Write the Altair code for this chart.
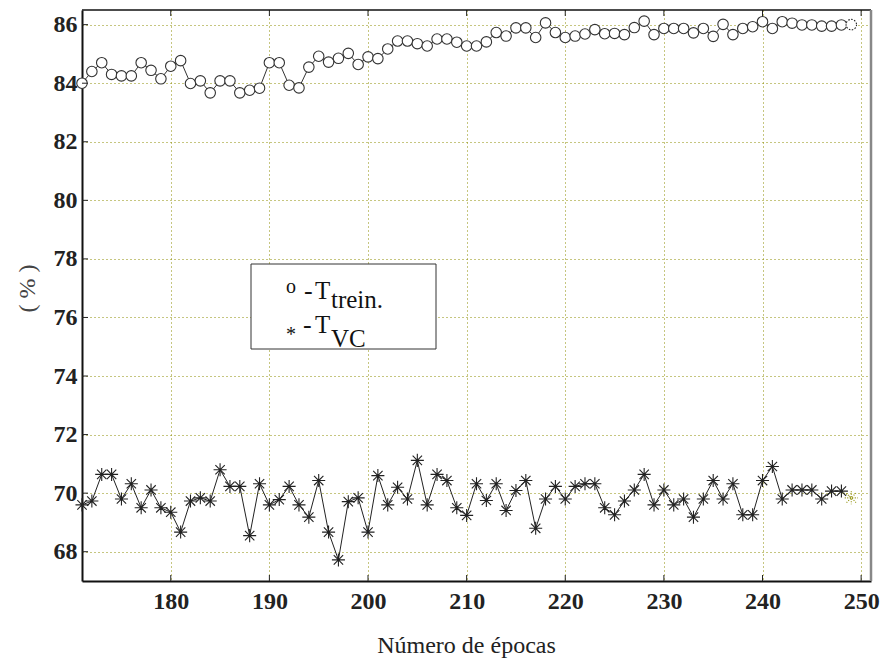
import altair as alt
import pandas as pd

# ---- data ----
epochs = list(range(171, 250))
t_trein = [84.0, 84.4, 84.7, 84.3, 84.25, 84.25, 84.7, 84.44, 84.15, 84.58,
           84.77, 83.99, 84.08, 83.67, 84.08, 84.08, 83.67, 83.76, 83.83, 84.7,
           84.7, 83.93, 83.84, 84.55, 84.92, 84.72, 84.85, 85.02, 84.64, 84.9,
           84.84, 85.17, 85.44, 85.44, 85.35, 85.27, 85.51, 85.51, 85.4, 85.27,
           85.27, 85.41, 85.73, 85.61, 85.89, 85.89, 85.56, 86.06, 85.73, 85.56,
           85.61, 85.68, 85.83, 85.69, 85.7, 85.66, 85.9, 86.12, 85.66, 85.87,
           85.87, 85.87, 85.72, 85.87, 85.6, 86.01, 85.66, 85.87, 85.93, 86.1,
           85.87, 86.1, 86.05, 85.99, 85.99, 85.95, 85.95, 85.99, 86.0]
t_vc = [69.6, 69.73, 70.64, 70.64, 69.8, 70.32, 69.5, 70.11, 69.5, 69.35,
        68.67, 69.73, 69.84, 69.73, 70.8, 70.23, 70.23, 68.55, 70.32, 69.6,
        69.78, 70.23, 69.6, 69.18, 70.43, 68.67, 67.72, 69.71, 69.84, 68.67,
        70.6, 69.6, 70.2, 69.8, 71.12, 69.6, 70.64, 70.43, 69.5, 69.24,
        70.32, 69.75, 70.32, 69.41, 70.09, 70.43, 68.8, 69.8, 70.23, 69.8,
        70.23, 70.32, 70.32, 69.5, 69.26, 69.73, 70.11, 70.64, 69.6, 70.11,
        69.6, 69.8, 69.18, 69.8, 70.43, 69.8, 70.32, 69.26, 69.26, 70.43,
        70.91, 69.8, 70.11, 70.11, 70.11, 69.8, 70.07, 70.07, 69.84]
x_ticks = [180, 190, 200, 210, 220, 230, 240, 250]
y_ticks = [68, 70, 72, 74, 76, 78, 80, 82, 84, 86]

W, H = 789, 571
FONT = "'Liberation Serif', 'Times New Roman', Times, 'DejaVu Serif', serif"
GRID = "#8c8c00"

df = pd.DataFrame({"epoch": epochs, "trein": t_trein, "vc": t_vc})
main = df[df.epoch <= 248]
tail = df[df.epoch >= 248]
last = df[df.epoch == 249]

xscale = alt.Scale(domain=[171, 251], nice=False, zero=False)
yscale = alt.Scale(domain=[67, 86.5], nice=False, zero=False)

xaxis = alt.Axis(values=x_ticks, title="Número de épocas", titleX=384, titleY=71,
                 titleAlign="center", titleBaseline="alphabetic",
                 labelBaseline="top", labelPadding=8)
yaxis = alt.Axis(values=y_ticks, title="( % )", titleX=-55, titleY=278,
                 titleAlign="center", titleBaseline="middle", titleAngle=-90,
                 titleColor="#444", labelPadding=5)

def X(f="epoch"):
    return alt.X(f"{f}:Q", scale=xscale, axis=xaxis)

def Y(f):
    return alt.Y(f"{f}:Q", scale=yscale, axis=yaxis)

star = "M-1,0L1,0M0,-1L0,1M-0.72,-0.72L0.72,0.72M-0.72,0.72L0.72,-0.72"

line_tr = alt.Chart(main).mark_line(color="#333", strokeWidth=1).encode(x=X(), y=Y("trein"))
tail_tr = alt.Chart(tail).mark_line(color="#333", strokeWidth=1, strokeDash=[1, 2]).encode(x=X(), y=Y("trein"))
pts_tr = alt.Chart(main).mark_point(shape="circle", size=110, filled=True, fill="white",
                                    stroke="#333", strokeWidth=1.1, opacity=1).encode(x=X(), y=Y("trein"))
last_tr = alt.Chart(last).mark_point(shape="circle", size=110, filled=True, fill="white",
                                     stroke="#222", strokeWidth=1.1, strokeDash=[1.5, 1.5],
                                     opacity=1).encode(x=X(), y=Y("trein"))

line_vc = alt.Chart(main).mark_line(color="#222", strokeWidth=1).encode(x=X(), y=Y("vc"))
tail_vc = alt.Chart(tail).mark_line(color=GRID, strokeWidth=1, strokeDash=[1, 2]).encode(x=X(), y=Y("vc"))
pts_vc = alt.Chart(main).mark_point(shape=star, size=170, filled=False, stroke="#222",
                                    strokeWidth=1.1, opacity=1).encode(x=X(), y=Y("vc"))
last_vc = alt.Chart(last).mark_point(shape=star, size=170, filled=False, stroke=GRID,
                                     strokeWidth=1.1, strokeDash=[1, 1.5],
                                     opacity=1).encode(x=X(), y=Y("vc"))

# inward tick marks
ydf = pd.DataFrame({"yt": y_ticks})
xdf = pd.DataFrame({"xt": x_ticks})
ytick_l = alt.Chart(ydf).mark_rule(color="#222", strokeWidth=1).encode(
    y=Y("yt"), x=alt.value(0), x2=alt.value(6))
xtick_b = alt.Chart(xdf).mark_rule(color="#222", strokeWidth=1).encode(
    x=X("xt"), y=alt.value(H), y2=alt.value(H - 6))
xtick_t = alt.Chart(xdf).mark_rule(color="#222", strokeWidth=1).encode(
    x=X("xt"), y=alt.value(0), y2=alt.value(6))

one = pd.DataFrame({"a": [0]})
top_edge = alt.Chart(one).mark_rule(color="#111", strokeWidth=1.5).encode(
    x=alt.value(0), x2=alt.value(W), y=alt.value(0))
right_edge = alt.Chart(one).mark_rule(color="#888", strokeWidth=2.5).encode(
    x=alt.value(W), y=alt.value(0), y2=alt.value(H))

# legend box
box = alt.Chart(one).mark_rect(fill="white", stroke="#333", strokeWidth=1).encode(
    x=alt.value(169), x2=alt.value(354), y=alt.value(254), y2=alt.value(339))

def txt(s, x, y, size=25):
    return alt.Chart(one).mark_text(text=s, font=FONT, fontSize=size, align="left",
                                    baseline="alphabetic", color="#111").encode(
        x=alt.value(x), y=alt.value(y))

legend = [
    box,
    txt("o", 204, 283, 20),
    txt("-", 222, 289, 26),
    txt("T", 233, 289, 25),
    txt("trein.", 249, 298, 25),
    txt("*", 204, 331, 20),
    txt("-", 221, 323, 26),
    txt("T", 233, 323, 25),
    txt("VC", 249, 337, 25),
]

chart = alt.layer(
    line_tr, tail_tr, pts_tr, last_tr,
    line_vc, tail_vc, pts_vc, last_vc,
    ytick_l, xtick_b, xtick_t, top_edge, right_edge,
    *legend,
).properties(
    width=W, height=H, autosize="none",
    padding={"left": 82, "top": 10, "right": 13, "bottom": 81},
).configure(
    background="white", font=FONT
).configure_view(
    stroke=None
).configure_axis(
    grid=True, ticks=False, labelFont=FONT, labelFontSize=24, labelFontWeight="bold",
    labelColor="#222", labelFlush=False, titleFont=FONT, titleFontSize=24,
    titleFontWeight="normal", titleColor="#222", domainColor="#111", domainWidth=2,
    gridColor=GRID, gridDash=[1, 3], gridWidth=1, gridOpacity=1,
)

chart.save("out.html", embed_options={"renderer": "svg", "actions": False})
